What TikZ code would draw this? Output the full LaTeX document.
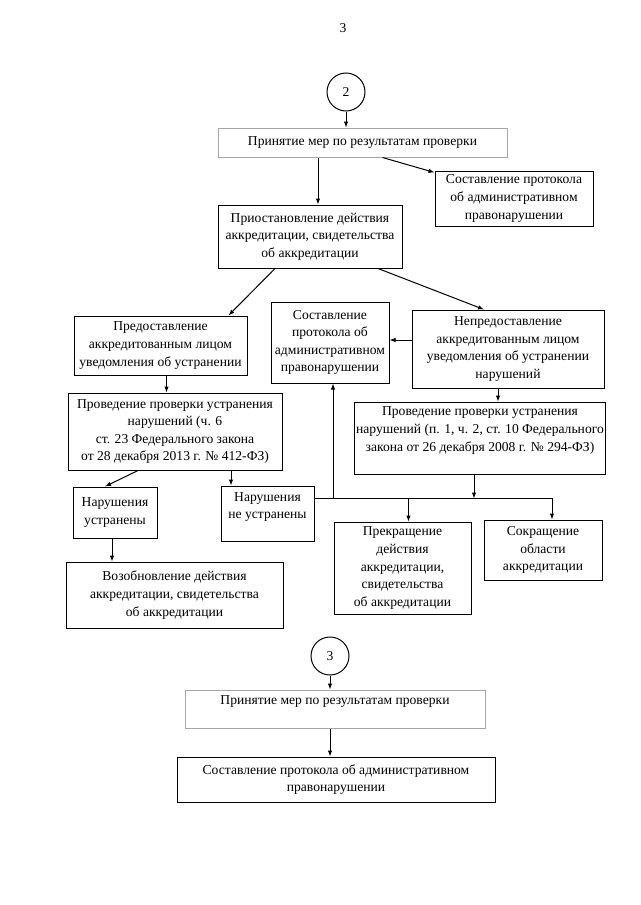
\documentclass[tikz,border=0pt]{standalone}
\usepackage{fontspec}
\setmainfont{Liberation Serif}
\usetikzlibrary{arrows.meta}

\begin{document}
\begin{tikzpicture}[x=1pt,y=-1pt,
		box/.style={draw,line width=1pt,align=center,inner sep=2pt,font=\fontsize{13.6}{17.6}\selectfont},
		pale/.style={box,draw=black!35},
		num/.style={draw,circle,line width=1pt,minimum size=38pt,inner sep=0pt,font=\fontsize{13.6}{17.6}\selectfont},
		arr/.style={line width=1pt,-{Latex[length=6pt,width=4.5pt]}}]
	\useasboundingbox (0,0) rectangle (640,905);
	
	\node[font=\fontsize{13.6}{17.6}\selectfont] (pg) at (343,28) {3};
	
	% block 2
	\node[num] (c2) at (346,92) {2};
	\node[pale,minimum width=289pt,minimum height=29pt] (A) at (362.5,142.5) {Принятие мер по результатам проверки};
	\node[box,minimum width=158pt,minimum height=55pt] (B) at (514,198.5) {Составление протокола\\об административном\\правонарушении};
	\node[box,minimum width=184pt,minimum height=63pt] (C) at (310,236.5) {Приостановление действия\\аккредитации, свидетельства\\об аккредитации};
	\node[box,minimum width=173pt,minimum height=59pt] (D) at (160.5,345.5) {Предоставление\\аккредитованным лицом\\уведомления об устранении};
	\node[box,minimum width=118pt,minimum height=81pt] (E) at (330,342.5) {Составление\\протокола об\\административном\\правонарушении};
	\node[box,minimum width=192pt,minimum height=78pt] (F) at (508,349) {Непредоставление\\аккредитованным лицом\\уведомления об устранении\\нарушений};
	\node[box,minimum width=214pt,minimum height=77pt] (G) at (175,431.5) {Проведение проверки устранения\\нарушений (ч. 6\\ст. 23 Федерального закона\\от 28 декабря 2013 г. № 412-ФЗ)};
	\node[box,minimum width=250pt,minimum height=72pt,text depth=18pt] (H) at (480,438) {Проведение проверки устранения\\нарушений (п. 1, ч. 2, ст. 10 Федерального\\закона от 26 декабря 2008 г. № 294-ФЗ)};
	\node[box,minimum width=84pt,minimum height=51pt] (I) at (115,512.5) {Нарушения\\устранены};
	\node[box,minimum width=93pt,minimum height=55pt,text depth=16pt] (J) at (267.5,513.5) {Нарушения\\не устранены};
	\node[box,minimum width=137pt,minimum height=92pt] (K) at (402.5,568) {Прекращение\\действия\\аккредитации,\\свидетельства\\об аккредитации};
	\node[box,minimum width=118pt,minimum height=60pt] (L) at (543,550) {Сокращение\\области\\аккредитации};
	\node[box,minimum width=217pt,minimum height=66pt] (M) at (174.5,595) {Возобновление действия\\аккредитации, свидетельства\\об аккредитации};
	
	% block 3
	\node[num] (c3) at (330,656) {3};
	\node[pale,minimum width=300pt,minimum height=38pt,text depth=17pt] (N) at (335,709) {Принятие мер по результатам проверки};
	\node[box,minimum width=318pt,minimum height=45pt] (O) at (336,779.5) {Составление протокола об административном\\правонарушении};
	
	% arrows
	\coordinate (ac) at ([xshift=8pt]C.north);
	\coordinate (fe) at ([yshift=9pt]F.west);
	\coordinate (dg) at ([xshift=6pt]D.south);
	\coordinate (fh) at ([xshift=-10pt]F.south);
	\coordinate (gj) at ([xshift=56pt]G.south);
	\coordinate (im) at ([xshift=-3pt]I.south);
	\coordinate (jr) at ([yshift=15pt]J.east);
	\coordinate (lt) at ([xshift=9pt]L.north);
	\coordinate (kt) at ([xshift=6pt]K.north);
	\coordinate (hb) at ([xshift=-6pt]H.south);
	
	\draw[arr] (c2) -- (c2 |- A.north);
	\draw[arr] (ac |- A.south) -- (ac);
	\draw[arr] ([xshift=20pt]A.south) -- ([yshift=-2pt]B.north west);
	\draw[arr] ([xshift=-35pt]C.south) -- ([xshift=68pt]D.north);
	\draw[arr] ([xshift=68pt]C.south) -- ([xshift=-24pt]F.north);
	\draw[arr] (fe) -- (fe -| E.east);
	\draw[arr] (dg) -- (dg |- G.north);
	\draw[arr] (fh) -- (fh |- H.north);
	\draw[arr] ([xshift=-37pt]G.south) -- ([xshift=-10pt]I.north);
	\draw[arr] (gj) -- (gj |- J.north);
	\draw[arr] (im) -- (im |- M.north);
	\draw[arr] (jr) -- (jr -| lt) -- (lt);
	\draw[arr] (jr -| kt) -- (kt);
	\draw[arr] ([xshift=3pt]jr -| E.south) -- ([xshift=3pt]E.south);
	\draw[arr] (hb) -- (hb |- jr);
	
	\draw[arr] (c3) -- (c3 |- N.north);
	\draw[arr] (c3 |- N.south) -- (c3 |- O.north);
\end{tikzpicture}
\end{document}
